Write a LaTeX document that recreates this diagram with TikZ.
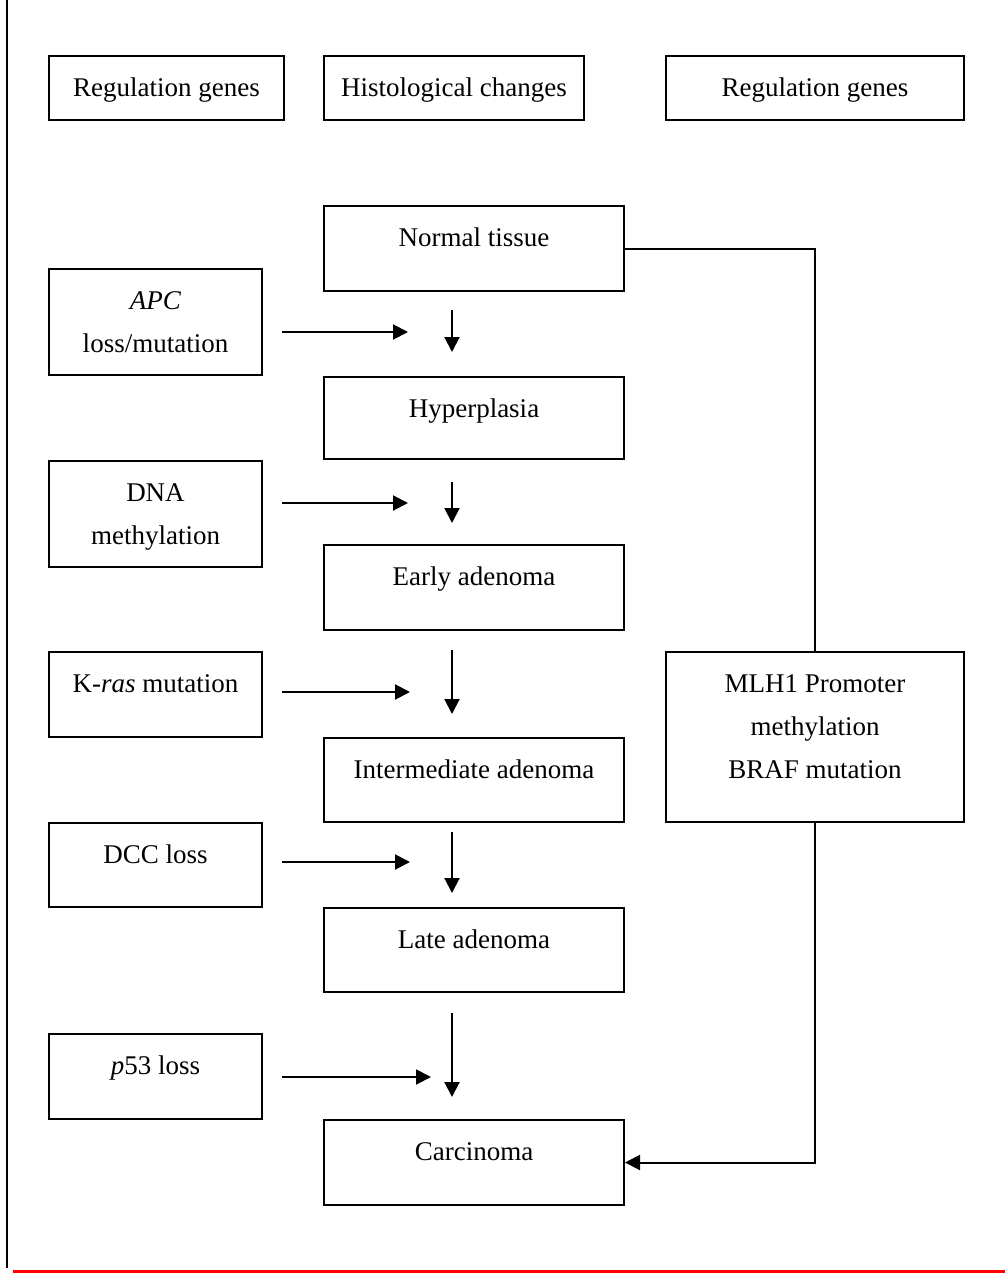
\documentclass[tikz,border=0pt]{standalone}
\usepackage{fontspec}
\setmainfont{Liberation Serif}
\usepackage{tikz}
\usetikzlibrary{positioning,arrows.meta}

\tikzset{
  box/.style={draw, line width=2pt, anchor=north west, inner sep=0pt},
  txt/.style={inner sep=0pt, align=center, font=\fontsize{27}{43}\selectfont},
  arr/.style={line width=2pt, -{Triangle[length=15pt,width=15pt]}}
}

\begin{document}
\begin{tikzpicture}[x=1pt,y=-1pt]
    \useasboundingbox (0,0) rectangle (1005,1274);

    %page rules
    \draw[line width=2.5pt] (7,0) -- (7,1268);
    \draw[line width=3pt, red] (13,1271) -- (1005,1271);

    %headers
    \node[box, minimum width=235pt, minimum height=64pt] (hdrL) at (48,55) {};
    \node[box, minimum width=260pt, minimum height=64pt] (hdrM) at (323,55) {};
    \node[box, minimum width=298pt, minimum height=64pt] (hdrR) at (665,55) {};
    \node[txt, below=23pt of hdrL.north] (hdrLT) {Regulation genes};
    \node[txt, below=23pt of hdrM.north] (hdrMT) {Histological changes};
    \node[txt, below=23pt of hdrR.north] (hdrRT) {Regulation genes};

    %histological stages
    \node[box, minimum width=300pt, minimum height=85pt] (normal) at (323,205) {};
    \node[box, minimum width=300pt, minimum height=82pt] (hyper) at (323,376) {};
    \node[box, minimum width=300pt, minimum height=85pt] (early) at (323,544) {};
    \node[box, minimum width=300pt, minimum height=84pt] (inter) at (323,737) {};
    \node[box, minimum width=300pt, minimum height=84pt] (late) at (323,907) {};
    \node[box, minimum width=300pt, minimum height=85pt] (carc) at (323,1119) {};
    \node[txt, below=23pt of normal.north] (normalT) {Normal tissue};
    \node[txt, below=23pt of hyper.north] (hyperT) {Hyperplasia};
    \node[txt, below=23pt of early.north] (earlyT) {Early adenoma};
    \node[txt, below=23pt of inter.north] (interT) {Intermediate adenoma};
    \node[txt, below=23pt of late.north] (lateT) {Late adenoma};
    \node[txt, below=23pt of carc.north] (carcT) {Carcinoma};

    %genes on the left
    \node[box, minimum width=213pt, minimum height=106pt] (apc) at (48,268) {};
    \node[box, minimum width=213pt, minimum height=106pt] (dna) at (48,460) {};
    \node[box, minimum width=213pt, minimum height=85pt] (kras) at (48,651) {};
    \node[box, minimum width=213pt, minimum height=84pt] (dcc) at (48,822) {};
    \node[box, minimum width=213pt, minimum height=85pt] (pft) at (48,1033) {};
    \node[txt, below=23pt of apc.north] (apcT) {\textit{APC}\\loss/mutation};
    \node[txt, below=23pt of dna.north] (dnaT) {DNA\\methylation};
    \node[txt, below=23pt of kras.north] (krasT) {K-\textit{ras} mutation};
    \node[txt, below=23pt of dcc.north] (dccT) {DCC loss};
    \node[txt, below=23pt of pft.north] (pftT) {\textit{p}53 loss};

    %genes on the right
    \node[box, minimum width=298pt, minimum height=170pt] (mlh) at (665,651) {};
    \node[txt, below=23pt of mlh.north] (mlhT) {MLH1 Promoter\\methylation\\BRAF mutation};

    %arrow ends
    \coordinate (h1a) at (282,332);  \coordinate (h1b) at (408,332);
    \coordinate (h2a) at (282,503);  \coordinate (h2b) at (408,503);
    \coordinate (h3a) at (282,692);  \coordinate (h3b) at (410,692);
    \coordinate (h4a) at (282,862);  \coordinate (h4b) at (410,862);
    \coordinate (h5a) at (282,1077); \coordinate (h5b) at (431,1077);
    \coordinate (v1a) at (452,310);  \coordinate (v1b) at (452,352);
    \coordinate (v2a) at (452,482);  \coordinate (v2b) at (452,523);
    \coordinate (v3a) at (452,650);  \coordinate (v3b) at (452,714);
    \coordinate (v4a) at (452,832);  \coordinate (v4b) at (452,893);
    \coordinate (v5a) at (452,1013); \coordinate (v5b) at (452,1097);

    \draw[arr] (h1a) -- (h1b);
    \draw[arr] (h2a) -- (h2b);
    \draw[arr] (h3a) -- (h3b);
    \draw[arr] (h4a) -- (h4b);
    \draw[arr] (h5a) -- (h5b);
    \draw[arr] (v1a) -- (v1b);
    \draw[arr] (v2a) -- (v2b);
    \draw[arr] (v3a) -- (v3b);
    \draw[arr] (v4a) -- (v4b);
    \draw[arr] (v5a) -- (v5b);

    %side path
    \draw[line width=2pt] (normal.east) -| (mlh.north);
    \draw[arr] (mlh.south) |- (carc.east);
\end{tikzpicture}
\end{document}
